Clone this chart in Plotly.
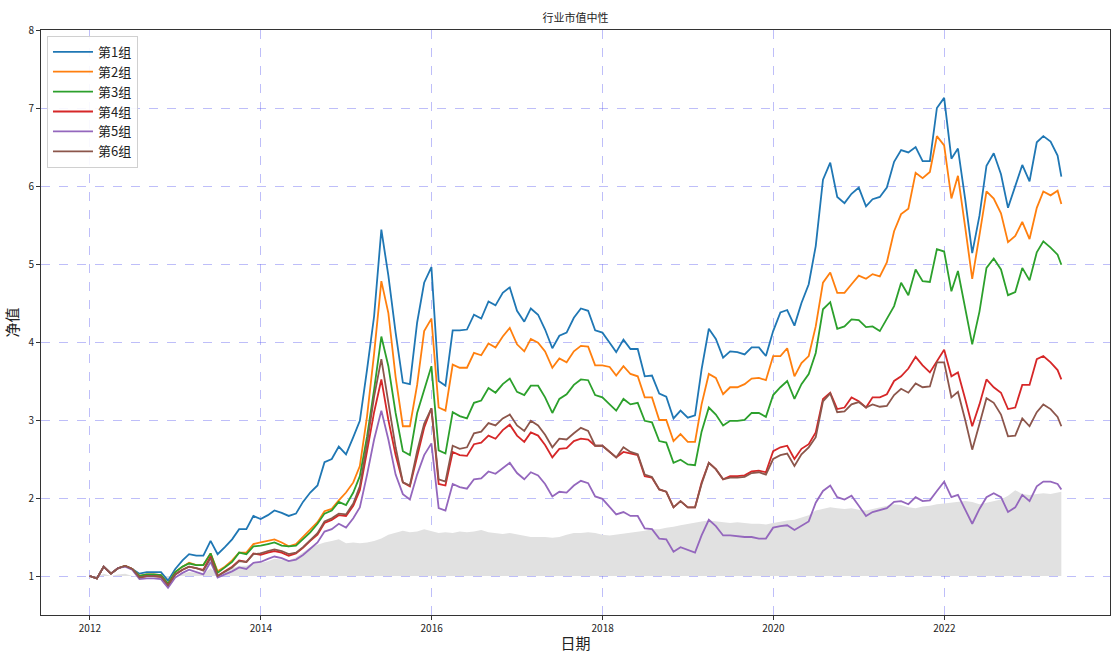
import pandas as pd
import plotly.graph_objects as go

# Month-end dates (2011-12-31 ... 2023-04-30) plus the final partial-month point
dates = list(pd.date_range("2012-01-01", periods=137, freq="MS") - pd.Timedelta(days=1)) + [pd.Timestamp("2023-05-16")]

g1 = [1.00, 0.97, 1.12, 1.03, 1.10, 1.13, 1.09, 1.03, 1.05, 1.05, 1.05, 0.94,
      1.09, 1.20, 1.28, 1.26, 1.26, 1.45, 1.28, 1.37, 1.47, 1.60, 1.60, 1.77,
      1.73, 1.78, 1.84, 1.81, 1.77, 1.80, 1.95, 2.07, 2.16, 2.46, 2.50, 2.66,
      2.56, 2.78, 2.99, 3.65, 4.33, 5.44, 4.85, 4.12, 3.48, 3.46, 4.25, 4.76,
      4.96, 3.50, 3.44, 4.15, 4.15, 4.16, 4.35, 4.30, 4.52, 4.47, 4.63, 4.70,
      4.40, 4.26, 4.43, 4.35, 4.16, 3.92, 4.08, 4.12, 4.31, 4.43, 4.40, 4.15,
      4.12, 3.99, 3.87, 4.03, 3.91, 3.91, 3.56, 3.57, 3.34, 3.30, 3.02, 3.12,
      3.03, 3.06, 3.65, 4.17, 4.04, 3.80, 3.88, 3.87, 3.84, 3.93, 3.93, 3.82,
      4.14, 4.38, 4.41, 4.21, 4.50, 4.74, 5.23, 6.08, 6.30, 5.86, 5.78, 5.90,
      5.98, 5.74, 5.83, 5.86, 5.98, 6.31, 6.46, 6.43, 6.50, 6.32, 6.32, 7.00,
      7.13, 6.35, 6.48, 5.83, 5.14, 5.62, 6.26, 6.42, 6.15, 5.72, 6.00, 6.27,
      6.06, 6.56, 6.64, 6.57, 6.39, 6.12]

g2 = [1.00, 0.97, 1.12, 1.03, 1.10, 1.13, 1.09, 1.00, 1.02, 1.02, 1.01, 0.90,
      1.05, 1.12, 1.17, 1.14, 1.14, 1.29, 1.06, 1.12, 1.20, 1.30, 1.30, 1.41,
      1.43, 1.45, 1.47, 1.43, 1.38, 1.41, 1.50, 1.59, 1.69, 1.83, 1.86, 1.97,
      2.07, 2.20, 2.41, 3.05, 3.85, 4.78, 4.37, 3.55, 2.92, 2.92, 3.45, 4.14,
      4.30, 3.16, 3.12, 3.71, 3.67, 3.67, 3.86, 3.83, 3.98, 3.93, 4.07, 4.18,
      3.97, 3.88, 4.04, 3.99, 3.88, 3.67, 3.79, 3.74, 3.88, 3.95, 3.94, 3.70,
      3.70, 3.68, 3.57, 3.69, 3.59, 3.56, 3.29, 3.29, 3.00, 3.00, 2.73, 2.82,
      2.72, 2.72, 3.20, 3.59, 3.54, 3.33, 3.42, 3.42, 3.46, 3.53, 3.54, 3.51,
      3.82, 3.82, 3.92, 3.56, 3.73, 3.82, 4.20, 4.76, 4.89, 4.63, 4.63, 4.74,
      4.85, 4.81, 4.87, 4.84, 5.02, 5.42, 5.64, 5.71, 6.17, 6.10, 6.18, 6.64,
      6.52, 5.84, 6.13, 5.47, 4.81, 5.37, 5.93, 5.84, 5.65, 5.28, 5.36, 5.54,
      5.32, 5.72, 5.93, 5.88, 5.94, 5.77]

g3 = [1.00, 0.97, 1.12, 1.03, 1.10, 1.13, 1.09, 1.00, 1.02, 1.02, 1.01, 0.90,
      1.05, 1.12, 1.16, 1.14, 1.14, 1.29, 1.04, 1.11, 1.18, 1.30, 1.28, 1.38,
      1.39, 1.41, 1.43, 1.39, 1.38, 1.39, 1.47, 1.56, 1.67, 1.80, 1.84, 1.95,
      1.91, 2.07, 2.28, 2.79, 3.39, 4.07, 3.69, 3.09, 2.60, 2.55, 3.09, 3.39,
      3.69, 2.61, 2.57, 3.10, 3.05, 3.02, 3.22, 3.25, 3.41, 3.35, 3.46, 3.53,
      3.36, 3.32, 3.44, 3.44, 3.29, 3.09, 3.27, 3.33, 3.45, 3.52, 3.51, 3.32,
      3.29, 3.20, 3.12, 3.27, 3.20, 3.22, 2.99, 2.97, 2.73, 2.71, 2.45, 2.49,
      2.43, 2.42, 2.85, 3.16, 3.07, 2.93, 2.99, 2.99, 3.00, 3.09, 3.09, 3.04,
      3.32, 3.42, 3.50, 3.27, 3.46, 3.59, 3.86, 4.42, 4.51, 4.17, 4.20, 4.29,
      4.28, 4.19, 4.20, 4.14, 4.29, 4.46, 4.76, 4.60, 4.93, 4.78, 4.77, 5.19,
      5.16, 4.65, 4.91, 4.45, 3.97, 4.39, 4.95, 5.07, 4.93, 4.60, 4.64, 4.95,
      4.79, 5.15, 5.29, 5.21, 5.12, 4.99]

g4 = [1.00, 0.97, 1.12, 1.03, 1.10, 1.13, 1.09, 0.98, 1.00, 1.00, 0.99, 0.88,
      1.02, 1.08, 1.12, 1.10, 1.08, 1.25, 1.00, 1.06, 1.12, 1.20, 1.18, 1.29,
      1.27, 1.30, 1.32, 1.30, 1.26, 1.29, 1.36, 1.45, 1.53, 1.68, 1.72, 1.78,
      1.77, 1.90, 2.10, 2.60, 3.10, 3.52, 3.00, 2.55, 2.20, 2.15, 2.55, 2.90,
      3.15, 2.18, 2.16, 2.59, 2.55, 2.54, 2.69, 2.71, 2.80, 2.76, 2.87, 2.94,
      2.80, 2.72, 2.84, 2.80, 2.68, 2.52, 2.63, 2.64, 2.73, 2.76, 2.75, 2.67,
      2.67, 2.59, 2.52, 2.59, 2.57, 2.55, 2.28, 2.26, 2.11, 2.08, 1.88, 1.96,
      1.88, 1.88, 2.20, 2.45, 2.37, 2.24, 2.28, 2.28, 2.29, 2.34, 2.35, 2.33,
      2.60, 2.65, 2.67, 2.50, 2.63, 2.69, 2.84, 3.27, 3.35, 3.14, 3.16, 3.29,
      3.24, 3.16, 3.29, 3.29, 3.33, 3.50, 3.56, 3.66, 3.81, 3.70, 3.61, 3.76,
      3.90, 3.56, 3.61, 3.27, 2.92, 3.20, 3.52, 3.42, 3.35, 3.14, 3.16, 3.45,
      3.45, 3.78, 3.82, 3.74, 3.64, 3.52]

g5 = [1.00, 0.97, 1.12, 1.03, 1.10, 1.12, 1.08, 0.96, 0.97, 0.97, 0.96, 0.85,
      0.98, 1.04, 1.08, 1.05, 1.02, 1.18, 0.98, 1.02, 1.06, 1.11, 1.09, 1.17,
      1.18, 1.22, 1.25, 1.23, 1.19, 1.21, 1.27, 1.35, 1.43, 1.57, 1.60, 1.67,
      1.62, 1.74, 1.88, 2.30, 2.75, 3.12, 2.75, 2.30, 2.05, 1.98, 2.30, 2.55,
      2.70, 1.87, 1.84, 2.18, 2.14, 2.12, 2.24, 2.25, 2.34, 2.31, 2.38, 2.45,
      2.32, 2.24, 2.33, 2.29, 2.18, 2.02, 2.08, 2.07, 2.16, 2.22, 2.19, 2.02,
      1.99, 1.88, 1.79, 1.82, 1.77, 1.77, 1.61, 1.60, 1.48, 1.47, 1.31, 1.37,
      1.33, 1.30, 1.52, 1.72, 1.64, 1.52, 1.52, 1.51, 1.50, 1.50, 1.48, 1.48,
      1.62, 1.64, 1.65, 1.59, 1.64, 1.70, 1.94, 2.09, 2.16, 2.01, 1.98, 2.03,
      1.90, 1.77, 1.82, 1.85, 1.87, 1.95, 1.96, 1.92, 2.01, 1.96, 1.97, 2.09,
      2.21, 2.01, 2.04, 1.85, 1.67, 1.86, 2.01, 2.06, 2.01, 1.82, 1.88, 2.04,
      1.96, 2.15, 2.21, 2.21, 2.18, 2.11]

g6 = [1.00, 0.97, 1.12, 1.03, 1.10, 1.13, 1.09, 0.98, 1.00, 1.00, 0.99, 0.88,
      1.02, 1.08, 1.12, 1.10, 1.07, 1.23, 1.00, 1.06, 1.11, 1.19, 1.18, 1.28,
      1.29, 1.32, 1.34, 1.32, 1.28, 1.30, 1.37, 1.46, 1.55, 1.70, 1.74, 1.80,
      1.79, 1.93, 2.15, 2.70, 3.30, 3.78, 3.20, 2.65, 2.20, 2.16, 2.60, 2.95,
      3.15, 2.24, 2.21, 2.67, 2.63, 2.65, 2.83, 2.85, 2.96, 2.93, 3.02, 3.07,
      2.93, 2.86, 2.99, 2.93, 2.81, 2.65, 2.76, 2.75, 2.83, 2.90, 2.86, 2.67,
      2.67, 2.59, 2.52, 2.65, 2.59, 2.56, 2.30, 2.27, 2.11, 2.08, 1.88, 1.96,
      1.88, 1.88, 2.18, 2.45, 2.37, 2.24, 2.26, 2.26, 2.27, 2.32, 2.33, 2.30,
      2.50, 2.55, 2.57, 2.41, 2.56, 2.65, 2.78, 3.24, 3.34, 3.10, 3.11, 3.20,
      3.23, 3.16, 3.20, 3.17, 3.18, 3.32, 3.40, 3.35, 3.47, 3.42, 3.43, 3.74,
      3.74, 3.29, 3.36, 3.00, 2.62, 2.95, 3.28, 3.22, 3.07, 2.79, 2.80, 3.02,
      2.92, 3.10, 3.20, 3.14, 3.04, 2.92]

benchmark = [1.00, 0.99, 1.03, 1.00, 1.02, 1.03, 1.00, 0.98, 0.99, 0.99, 0.98, 0.95,
             1.00, 1.03, 1.05, 1.04, 1.03, 1.10, 1.02, 1.06, 1.10, 1.13, 1.13, 1.17,
             1.17, 1.19, 1.22, 1.21, 1.20, 1.24, 1.30, 1.37, 1.40, 1.43, 1.45, 1.47,
             1.42, 1.43, 1.42, 1.43, 1.45, 1.48, 1.53, 1.56, 1.58, 1.56, 1.57, 1.60,
             1.57, 1.55, 1.56, 1.55, 1.57, 1.56, 1.57, 1.59, 1.56, 1.55, 1.54, 1.55,
             1.53, 1.51, 1.50, 1.50, 1.50, 1.49, 1.50, 1.53, 1.55, 1.55, 1.56, 1.55,
             1.53, 1.52, 1.53, 1.55, 1.56, 1.57, 1.58, 1.60, 1.60, 1.62, 1.63, 1.65,
             1.67, 1.69, 1.70, 1.71, 1.70, 1.69, 1.68, 1.69, 1.68, 1.67, 1.67, 1.66,
             1.68, 1.70, 1.71, 1.72, 1.75, 1.78, 1.84, 1.86, 1.88, 1.87, 1.86, 1.87,
             1.85, 1.84, 1.86, 1.88, 1.90, 1.92, 1.91, 1.88, 1.87, 1.89, 1.90, 1.92,
             1.93, 1.94, 1.95, 1.96, 1.95, 1.92, 1.94, 1.96, 1.98, 2.03, 2.10, 2.05,
             2.04, 2.05, 2.06, 2.05, 2.07, 2.08]
baseline = 1.0

names = ["第1组", "第2组", "第3组", "第4组", "第5组", "第6组"]
series = [g1, g2, g3, g4, g5, g6]
colors = ["#1f77b4", "#ff7f0e", "#2ca02c", "#d62728", "#9467bd", "#8c564b"]
year_ticks = ["2012", "2014", "2016", "2018", "2020", "2022"]
y_ticks = [1, 2, 3, 4, 5, 6, 7, 8]

FONT = "Noto Sans CJK SC"
fig = go.Figure()

fig.add_trace(go.Scatter(x=dates, y=[baseline] * len(dates), mode="lines",
                         line=dict(width=0, color="rgba(0,0,0,0)"),
                         showlegend=False, hoverinfo="skip"))
fig.add_trace(go.Scatter(x=dates, y=benchmark, mode="lines", fill="tonexty",
                         fillcolor="#e1e1e1", line=dict(width=0, color="#e1e1e1"),
                         showlegend=False))

for name, ys, c in zip(names, series, colors):
    fig.add_trace(go.Scatter(x=dates, y=ys, mode="lines", name=name,
                             line=dict(color=c, width=1.8)))

grid = "rgba(100,100,240,0.42)"
fig.update_layout(
    width=1116, height=660,
    margin=dict(l=41, r=6, t=30, b=45, autoexpand=False),
    paper_bgcolor="white", plot_bgcolor="white",
    font=dict(family=FONT, size=10, color="#222"),
    title=dict(text="行业市值中性", x=0.5, xref="paper", xanchor="center",
               y=1 - 18 / 660, yanchor="middle", font=dict(size=11, color="#222"),
               automargin=False),
    legend=dict(x=0.0056, y=0.99, xanchor="left", yanchor="top",
                traceorder="normal", itemwidth=40,
                bgcolor="rgba(255,255,255,0.9)", bordercolor="#d0d0d0", borderwidth=1,
                font=dict(size=13, color="#222"), tracegroupgap=0),
    showlegend=True,
)
fig.update_xaxes(
    type="date", range=["2011-06-06", "2023-12-10"], automargin=False,
    tickvals=[f"{y}-01-01" for y in year_ticks], ticktext=year_ticks,
    showgrid=True, gridcolor=grid, griddash="dash", gridwidth=1,
    showline=True, linecolor="#333", linewidth=1, mirror=True,
    ticks="outside", ticklen=4, tickcolor="#333", zeroline=False,
    title=dict(text="日期", font=dict(size=15, color="#222"), standoff=4),
)
fig.update_yaxes(
    range=[0.5, 8], tickvals=y_ticks, automargin=False,
    showgrid=True, gridcolor=grid, griddash="dash", gridwidth=1,
    showline=True, linecolor="#333", linewidth=1, mirror=True,
    ticks="outside", ticklen=4, tickcolor="#333", zeroline=False,
    title=dict(text="净值", font=dict(size=15, color="#222"), standoff=6),
)

fig.write_html("out.html", config={"displayModeBar": False},
               post_script="document.body.style.margin='0';")
